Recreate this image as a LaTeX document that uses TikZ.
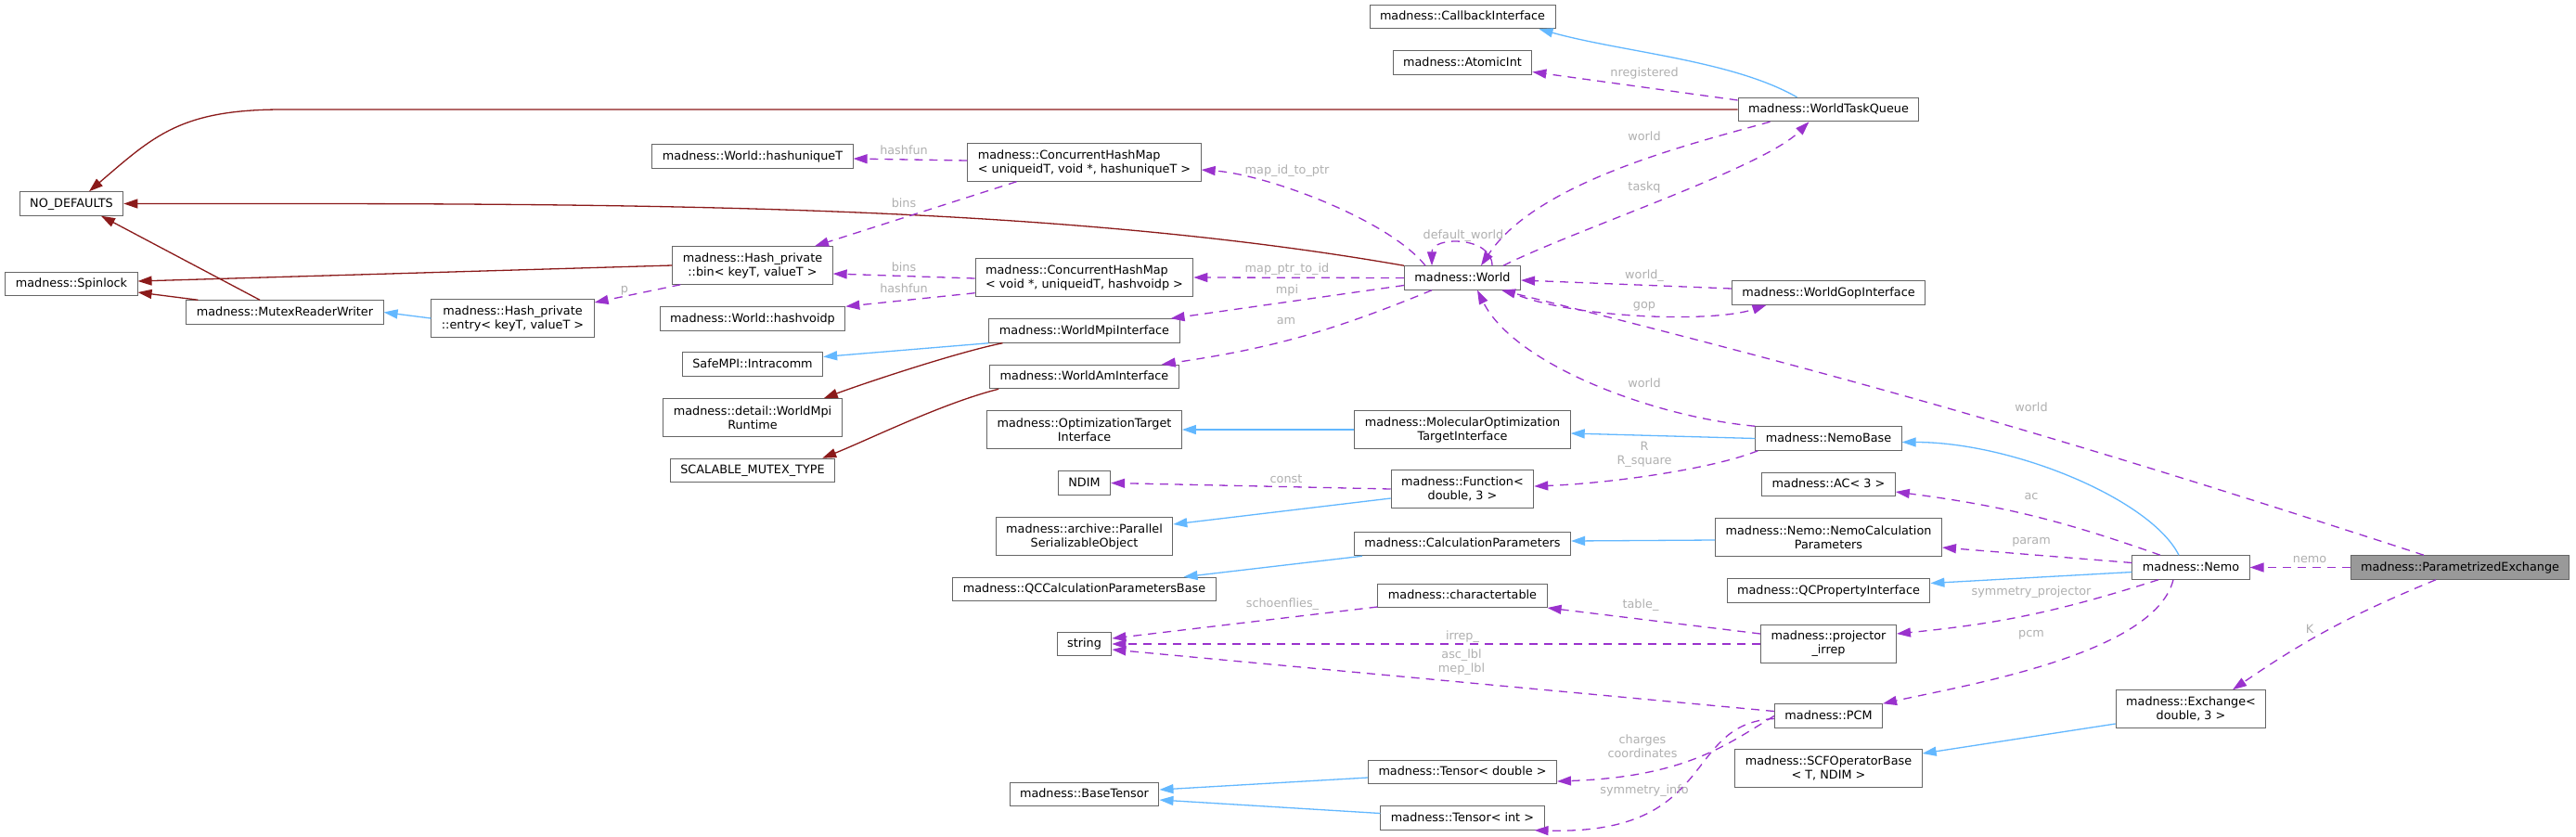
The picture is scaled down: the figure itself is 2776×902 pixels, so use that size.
\documentclass[tikz,border=0pt]{standalone}
\usepackage{fontspec}
\setmainfont{DejaVu Sans}
\usepackage{tikz}
\usetikzlibrary{arrows.meta,calc}
\definecolor{boxgray}{HTML}{666666}
\definecolor{inhred}{HTML}{8B1A1A}
\definecolor{inhblue}{HTML}{63B8FF}
\definecolor{usepurple}{HTML}{9A32CD}
\definecolor{labgray}{HTML}{B0B0B0}
\definecolor{maingray}{HTML}{999999}
\newcommand{\dox}{\fontsize{12.8}{15}\selectfont}

\begin{document}
\begin{tikzpicture}[x=1pt, y=-1pt, every node/.style={font=\dox}, >={Triangle[length=15pt,width=10pt]},
  cls/.style={draw=boxgray, fill=white, line width=1pt, inner xsep=11pt, inner ysep=0pt, minimum height=25.5pt, text height=9.6pt, text depth=2.6pt},
  cls2/.style={draw=boxgray, fill=white, line width=1pt, inner xsep=11pt, inner ysep=0pt, minimum height=40.5pt, align=center},
  lbl/.style={text=labgray, inner sep=0pt, text height=9.6pt, text depth=2.6pt},
  lbl2/.style={text=labgray, inner sep=0pt, align=center},
  priv/.style={->, draw=inhred, line width=1.3pt},
  inh/.style={->, draw=inhblue, line width=1.3pt},
  dep/.style={->, draw=usepurple, line width=1.3pt, dash pattern=on 9pt off 7pt}]
\path[use as bounding box, fill=white] (0,0) rectangle (2776,902);

\node[cls] (cbif) at (1576,18) {madness::CallbackInterface};
\node[cls] (aint) at (1576,67.5) {madness::AtomicInt};
\node[cls] (tq) at (1970.5,118) {madness::WorldTaskQueue};
\node[cls] (uniqT) at (811,168.5) {madness::World::hashuniqueT};
\node[cls2, align=left] (chmid) at (1168.5,175) {madness::ConcurrentHashMap\\< uniqueidT, void *, hashuniqueT >};
\node[cls] (nodef) at (77,219.5) {NO\_DEFAULTS};
\node[cls2] (bin) at (811,286) {madness::Hash\_private\\::bin< keyT, valueT >};
\node[cls2, align=left] (chmptr) at (1168.5,299) {madness::ConcurrentHashMap\\< void *, uniqueidT, hashvoidp >};
\node[cls] (world) at (1576,299.5) {madness::World};
\node[cls] (gop) at (1970.5,315.5) {madness::WorldGopInterface};
\node[cls] (spin) at (77,306) {madness::Spinlock};
\node[cls] (mrw) at (307,336.5) {madness::MutexReaderWriter};
\node[cls2] (entry) at (552.5,343) {madness::Hash\_private\\::entry< keyT, valueT >};
\node[cls] (voidp) at (811,343.5) {madness::World::hashvoidp};
\node[cls] (mpiif) at (1168.5,356.5) {madness::WorldMpiInterface};
\node[cls] (intra) at (811,392.5) {SafeMPI::Intracomm};
\node[cls] (amif) at (1168.5,406) {madness::WorldAmInterface};
\node[cls2] (mpirt) at (811,450) {madness::detail::WorldMpi\\Runtime};
\node[cls2] (opt) at (1168.5,463) {madness::OptimizationTarget\\Interface};
\node[cls2] (molopt) at (1576,463) {madness::MolecularOptimization\\TargetInterface};
\node[cls] (nbase) at (1970.5,472.5) {madness::NemoBase};
\node[cls] (scal) at (811,507) {SCALABLE\_MUTEX\_TYPE};
\node[cls] (ndim) at (1168.5,520.5) {NDIM};
\node[cls2] (func) at (1576,527) {madness::Function<\\double, 3 >};
\node[cls] (ac) at (1970.5,522) {madness::AC< 3 >};
\node[cls2] (pser) at (1168.5,578) {madness::archive::Parallel\\SerializableObject};
\node[cls] (calcp) at (1576,586) {madness::CalculationParameters};
\node[cls2] (ncalc) at (1970.5,579) {madness::Nemo::NemoCalculation\\Parameters};
\node[cls] (qcbase) at (1168.5,635) {madness::QCCalculationParametersBase};
\node[cls] (qcprop) at (1970.5,636.5) {madness::QCPropertyInterface};
\node[cls] (nemo) at (2361,611.5) {madness::Nemo};
\node[cls, fill=maingray] (pex) at (2651,611.5) {madness::ParametrizedExchange};
\node[cls] (chart) at (1576,642) {madness::charactertable};
\node[cls] (str) at (1168.5,694) {string};
\node[cls2] (proj) at (1970.5,694) {madness::projector\\\_irrep};
\node[cls] (pcm) at (1970.5,771.5) {madness::PCM};
\node[cls2] (exch) at (2361,764) {madness::Exchange<\\double, 3 >};
\node[cls2] (scfop) at (1970.5,828) {madness::SCFOperatorBase\\< T, NDIM >};
\node[cls] (btens) at (1168.5,856) {madness::BaseTensor};
\node[cls] (tdbl) at (1576,832) {madness::Tensor< double >};
\node[cls] (tint) at (1576,881.5) {madness::Tensor< int >};

\draw[priv] (tq.west) -- ++(-1568,0) .. controls +(-110,0) and +(70,-60) .. ($(nodef.north)+(19,0)$);
\draw[priv] (world.north west) .. controls +(-400,-70) and +(500,0) .. (nodef.east);
\draw[priv] (bin.west) -- ($(spin.east)+(0,-3)$);
\draw[priv] ($(mrw.north)+(-27,0)$) -- ($(nodef.south)+(32,0)$);
\draw[priv] ($(mrw.north west)+(13,0)$) -- ($(spin.east)+(0,9)$);
\draw[priv] ($(mpiif.south west)+(15,0)$) .. controls +(-50,10) and +(40,-15) .. ($(mpirt.north east)+(-20,0)$);
\draw[priv] ($(amif.south west)+(10,0)$) .. controls +(-60,15) and +(50,-20) .. ($(scal.north east)+(-14,0)$);

\draw[inh] (entry.west) -- (mrw.east);
\draw[inh] (mpiif.south west) -- ($(intra.east)+(0,-8)$);
\draw[inh] ($(tq.north)+(-34,0)$) .. controls +(-70,-40) and +(90,25) .. ($(cbif.south east)+(-18,0)$);
\draw[inh] (nbase.west) -- ($(molopt.east)+(0,4)$);
\draw[inh] (molopt.west) -- (opt.east);
\draw[inh] ($(func.west)+(0,10)$) -- ($(pser.east)+(0,-13)$);
\draw[inh] ($(calcp.south west)+(9,0)$) -- ($(qcbase.north)+(107,0)$);
\draw[inh] ($(ncalc.west)+(0,3)$) -- ($(calcp.east)+(0,-3)$);
\draw[inh] ($(nemo.north)+(-13,0)$) .. controls +(-30,-60) and +(120,0) .. ($(nbase.east)+(0,4)$);
\draw[inh] ($(nemo.west)+(0,5)$) -- ($(qcprop.east)+(0,-8)$);
\draw[inh] ($(exch.west)+(0,16)$) -- ($(scfop.east)+(0,-16)$);
\draw[inh] ($(tdbl.west)+(0,6)$) -- ($(btens.east)+(0,-5)$);
\draw[inh] ($(tint.west)+(0,-5)$) -- ($(btens.east)+(0,6)$);

\draw[dep] ($(bin.south west)+(9,0)$) -- ($(entry.east)+(0,-17)$) node[lbl, at={(673,312)}] (lp) {p};
\draw[dep] ($(chmid.west)+(0,-2)$) -- ($(uniqT.east)+(0,2.5)$) node[lbl, at={(974,163)}] (lhf1) {hashfun};
\draw[dep] ($(chmid.south)+(-73,0)$) -- ($(bin.north)+(67,0)$) node[lbl, at={(974,220)}] (lbins1) {bins};
\draw[dep] ($(chmptr.west)+(0,1)$) -- ($(bin.east)+(0,9)$) node[lbl, at={(974,289)}] (lbins2) {bins};
\draw[dep] ($(chmptr.south west)+(0,-4)$) -- (voidp.north east) node[lbl, at={(974,312)}] (lhf2) {hashfun};
\draw[dep] ($(world.north)+(-40,0)$) .. controls +(-40,-50) and +(70,5) .. ($(chmid.east)+(0,8)$) node[lbl, at={(1387,184)}] (lmid) {map\_id\_to\_ptr};
\draw[dep] (world.west) -- (chmptr.east) node[lbl, at={(1387,290)}] (lmpt) {map\_ptr\_to\_id};
\draw[dep] ($(world.west)+(0,8)$) -- ($(mpiif.north east)+(-10,0)$) node[lbl, at={(1387,313)}] (lmpi) {mpi};
\draw[dep] ($(world.south)+(-33,0)$) to[bend left=7] ($(amif.north east)+(-19,0)$) node[lbl, at={(1386,346)}] (lam) {am};
\draw[dep] ($(tq.west)+(0,-10)$) -- ($(aint.east)+(0,10)$) node[lbl, at={(1772,79)}] (lnreg) {nregistered};
\draw[dep] ($(tq.south)+(-63,0)$) .. controls +(-90,25) and +(60,-90) .. ($(world.north)+(20,0)$) node[lbl, at={(1772,148)}] (lw1) {world};
\draw[dep] ($(world.north)+(44,0)$) .. controls +(80,-40) and +(-50,50) .. ($(tq.south)+(-21,0)$) node[lbl, at={(1772,202)}] (ltq) {taskq};
\draw[dep] ($(world.north)+(32,0)$) .. controls +(0,-32) and +(0,-32) .. ($(world.north)+(-33,0)$) node[lbl, at={(1577,254)}] (ldw) {default\_world};
\draw[dep] ($(gop.west)+(0,-4.5)$) -- ($(world.east)+(0,2.5)$) node[lbl, at={(1772,297)}] (lw2) {world\_};
\draw[dep] ($(world.south)+(47,0)$) .. controls +(60,30) and +(-60,20) .. ($(gop.south)+(-67,0)$) node[lbl, at={(1772,329)}] (lgop) {gop};
\draw[dep] (nbase.north west) .. controls +(-110,-10) and +(40,80) .. ($(world.south)+(16,0)$) node[lbl, at={(1772,414)}] (lw3) {world};
\draw[dep] ($(pex.north)+(-39,0)$) to[bend right=2] ($(world.south)+(42,0)$) node[lbl, at={(2189,440)}] (lw4) {world};
\draw[dep] (pex.west) -- (nemo.east) node[lbl, at={(2489,603)}] (lnemo) {nemo};
\draw[dep] ($(pex.south)+(-26,0)$) to[bend right=6] ($(exch.north)+(45,0)$) node[lbl, at={(2489,679)}] (lK) {K};
\draw[dep] ($(nemo.north)+(-33,0)$) to[bend right=6] ($(ac.east)+(0,8)$) node[lbl, at={(2189,535)}] (lac) {ac};
\draw[dep] ($(nemo.west)+(0,-5)$) -- ($(ncalc.east)+(0,11)$) node[lbl, at={(2189,583)}] (lparam) {param};
\draw[dep] ($(nemo.south)+(-35,0)$) to[bend left=6] ($(proj.east)+(0,-11)$) node[lbl, at={(2189,638)}] (lsp) {symmetry\_projector};
\draw[dep] ($(nemo.south)+(-19,0)$) .. controls +(-20,80) and +(90,-20) .. (pcm.north east) node[lbl, at={(2189,683)}] (lpcm) {pcm};
\draw[dep] ($(nbase.south west)+(3,0)$) .. controls +(-50,20) and +(80,-3) .. ($(func.east)+(0,-3)$) node[lbl2, at={(1772,490)}] (lR) {R\\R\_square};
\draw[dep] (func.west) -- (ndim.east) node[lbl, at={(1386,517)}] (lconst) {const};
\draw[dep] ($(proj.west)+(0,-11)$) -- ($(chart.east)+(0,13)$) node[lbl, at={(1768,652)}] (ltab) {table\_};
\draw[dep] ($(chart.west)+(0,12)$) -- ($(str.east)+(0,-6)$) node[lbl, at={(1382,651)}] (lsch) {schoenflies\_};
\draw[dep] (proj.west) -- (str.east) node[lbl, at={(1576,686)}] (lirr) {irrep\_};
\draw[dep] ($(pcm.west)+(0,-5)$) -- ($(str.east)+(0,6)$) node[lbl2, at={(1575,713.5)}] (lasc) {asc\_lbl\\mep\_lbl};
\draw[dep] (pcm.west) .. controls +(-50,30) and +(140,-5) .. ($(tdbl.east)+(0,10)$) node[lbl2, at={(1770,804)}] (lchg) {charges\\coordinates};
\draw[dep] ($(pcm.west)+(0,3)$) .. controls +(-100,5) and +(200,5) .. ($(tint.south east)+(-11,0)$) node[lbl, at={(1772,852)}] (lsym) {symmetry\_info};
\end{tikzpicture}
\end{document}
